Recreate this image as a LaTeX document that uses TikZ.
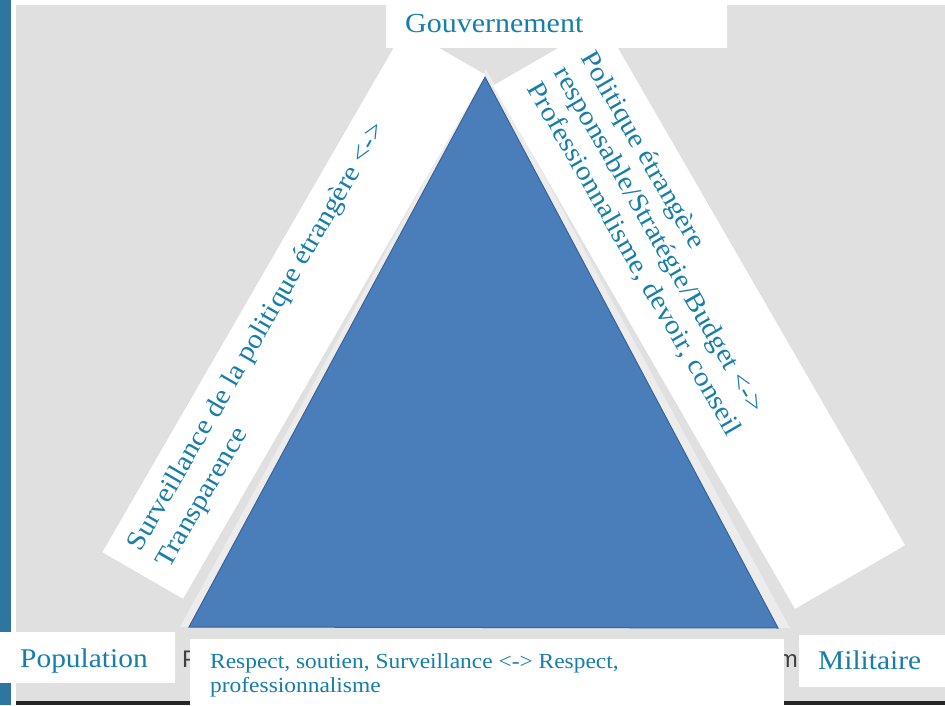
\documentclass[tikz,border=0pt]{standalone}
\usepackage{fontspec}
\setmainfont[FakeStretch=1.09]{Liberation Serif}
\setsansfont{Liberation Sans}
\definecolor{txt}{RGB}{22,126,170}
\definecolor{bggray}{RGB}{224,224,224}
\definecolor{bar}{RGB}{48,116,160}
\definecolor{tri}{RGB}{74,126,187}
\definecolor{triedge}{RGB}{58,98,150}
\definecolor{halo}{RGB}{236,236,236}
\tikzset{
  whitebox/.style={fill=white, draw=none, inner sep=0pt, outer sep=0pt},
  lbl/.style={text=txt, inner sep=0pt, font=\fontsize{27}{30}\selectfont},
  rottxt/.style={text=txt, inner sep=0pt, align=left},
  remnant/.style={text=black!75, inner sep=0pt, font=\sffamily\fontsize{24}{26}\selectfont}
}
\begin{document}
\begin{tikzpicture}[x=1pt,y=1pt]
\useasboundingbox (0,0) rectangle (945,705);
\fill[white] (0,0) rectangle (945,705);
\fill[bggray] (16,4) rectangle (945,700);
\fill[black!85] (16,0) rectangle (945,4);
\fill[bar] (0,0) rectangle (11,705);
% triangle
\coordinate (A) at (485,628);
\coordinate (B) at (189,78);
\coordinate (C) at (778,77);
\fill[halo] (486,636) -- (180,78) -- (790,77) -- cycle;
\filldraw[fill=tri, draw=triedge, line width=1pt] (A) -- (B) -- (C) -- cycle;
% remnants behind labels
\node[remnant, anchor=base west] (remP) at (182,38) {P};
\node[remnant, anchor=base east] (remM) at (798,38) {m};
% left rotated box
\begin{scope}[shift={(294,391.5)}, rotate=60, transform shape]
  \node[whitebox, minimum width=605pt, minimum height=93pt] (lbox) at (0,0) {};
  \node[rottxt, anchor=west, font=\fontsize{27}{33}\selectfont] (lefttext) at (-284,3)
    {Surveillance de la politique étrangère <->\\Transparence};
\end{scope}
% right rotated box
\begin{scope}[shift={(699,389.5)}, rotate=-60, transform shape]
  \node[whitebox, minimum width=604pt, minimum height=127pt] (rbox) at (0,0) {};
  \node[rottxt, anchor=west, font=\fontsize{27}{31}\selectfont] (righttext) at (-283,2.5)
    {Politique étrangère\\responsable/Stratégie/Budget <->\\Professionnalisme, devoir, conseil};
\end{scope}
% Gouvernement
\node[whitebox, anchor=south west, minimum width=341pt, minimum height=43pt] (govbox) at (386,657) {};
\node[lbl, anchor=base west, font=\fontsize{27.5}{30}\selectfont] (gov) at (405,672) {Gouvernement};
% Population
\node[whitebox, anchor=south west, minimum width=175pt, minimum height=51pt] (popbox) at (0,22) {};
\node[lbl, anchor=base west] (pop) at (20,38) {Population};
% Militaire
\node[whitebox, anchor=south west, minimum width=146pt, minimum height=52pt] (milbox) at (799,18) {};
\node[lbl, anchor=base west] (mil) at (818,36) {Militaire};
% bottom
\node[whitebox, anchor=south west, minimum width=594pt, minimum height=66pt] (botbox) at (190,0) {};
\node[rottxt, anchor=north west, font=\fontsize{21.5}{24}\selectfont] (bottext) at (210,53.8)
  {\strut Respect, soutien, Surveillance <-> Respect,\\professionnalisme};
\end{tikzpicture}
\end{document}
